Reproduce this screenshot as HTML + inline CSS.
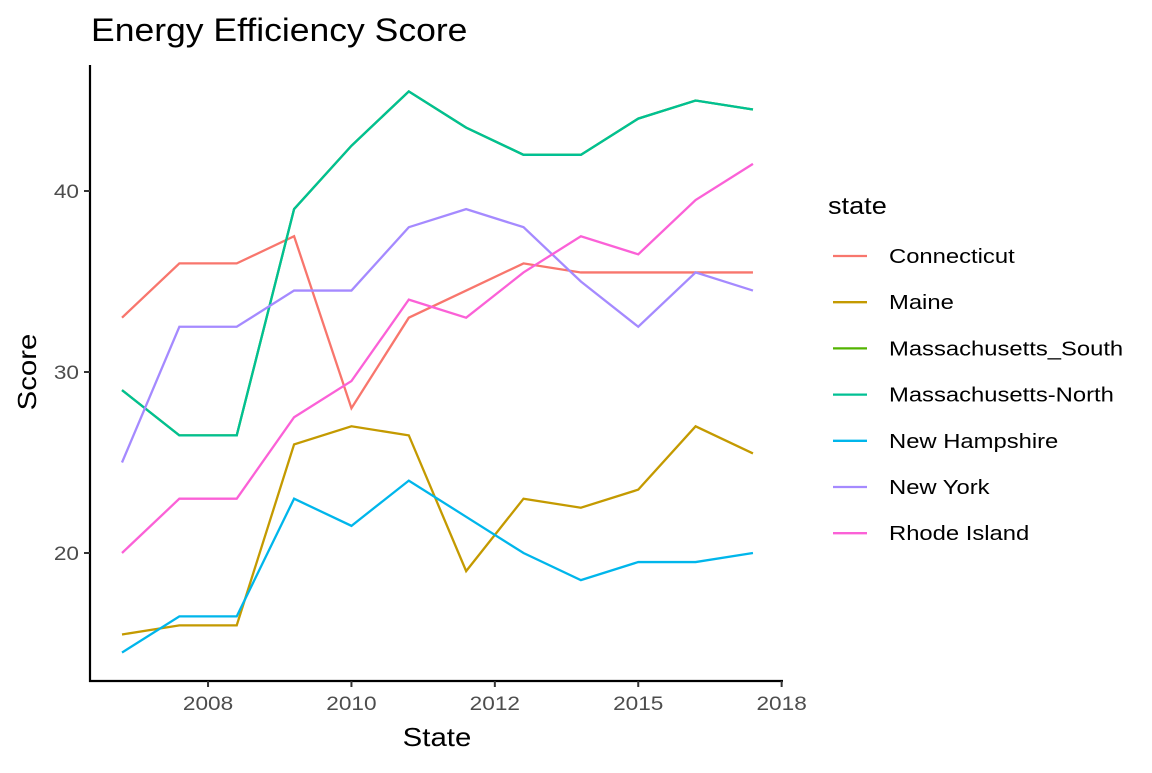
<!DOCTYPE html>
<html><head><meta charset="utf-8"><style>
body{margin:0;background:#fff;font-family:"Liberation Sans",sans-serif}
svg text{font-family:"Liberation Sans",sans-serif}
</style></head><body>
<svg id="chart" width="1152" height="768">
<text class="w" data-f="1.11" x="91" y="41" font-size="32" fill="#000">Energy Efficiency Score</text>
<g id="plot"></g>
<text class="w" data-f="1.13" x="437" y="746" font-size="26" text-anchor="middle" fill="#000">State</text>
<text class="w" data-f="1.13" transform="translate(36,372) rotate(-90)" font-size="26" text-anchor="middle" fill="#000">Score</text>
<g id="legend"><text class="w" data-f="1.13" x="828" y="214" font-size="24" fill="#000">state</text></g>
</svg>
<script>
const series = ["Connecticut","Maine","Massachusetts_South","Massachusetts-North","New Hampshire","New York","Rhode Island"];
const colors = ["#F8766D","#C49A00","#53B400","#00C094","#00B6EB","#A58AFF","#FB61D7"];
const connecticut = [33,36,36,37.5,28,33,34.5,36,35.5,35.5,35.5,35.5];
const maine = [15.5,16,16,26,27,26.5,19,23,22.5,23.5,27,25.5];
const massSouth = [29,26.5,26.5,39,42.5,45.5,43.5,42,42,44,45,44.5];
const massNorth = [29,26.5,26.5,39,42.5,45.5,43.5,42,42,44,45,44.5];
const newHampshire = [14.5,16.5,16.5,23,21.5,24,22,20,18.5,19.5,19.5,20];
const newYork = [25,32.5,32.5,34.5,34.5,38,39,38,35,32.5,35.5,34.5];
const rhodeIsland = [20,23,23,27.5,29.5,34,33,35.5,37.5,36.5,39.5,41.5];
const xTickLabels = ["2008","2010","2012","2015","2018"];
const xTickIdx = [1.5,4,6.5,9,11.5];
const yTicks = [20,30,40];
const allData = [connecticut,maine,massSouth,massNorth,newHampshire,newYork,rhodeIsland];
const NS="http://www.w3.org/2000/svg";
const xs = i => 122 + i*57.36;
const ys = v => 553 - (v-20)*18.1;
const plot=document.getElementById('plot');
function mk(t,a,p){const e=document.createElementNS(NS,t);for(const k in a)e.setAttribute(k,a[k]);(p||plot).appendChild(e);return e;}
let ax=mk('line',{x1:90,y1:65,x2:90,y2:682,stroke:'#000','stroke-width':2.2});


let bx=mk('line',{x1:89,y1:681,x2:783,y2:681,stroke:'#000','stroke-width':2.2});


yTicks.forEach(v=>{
 const tk=mk('line',{x1:84,x2:90,y1:ys(v),y2:ys(v),stroke:'#333','stroke-width':2});
 
 
 const t=mk('text',{x:79,y:ys(v)+7,'font-size':19,fill:'#4d4d4d','text-anchor':'end',class:'w','data-f':1.19});
 t.textContent=v;
 
 
});
xTickIdx.forEach((p,i)=>{
 const tk=mk('line',{x1:xs(p),x2:xs(p),y1:681,y2:687,stroke:'#333','stroke-width':2});
 
 
 const t=mk('text',{x:xs(p),y:710,'font-size':19,fill:'#4d4d4d','text-anchor':'middle',class:'w','data-f':1.19});
 t.textContent=xTickLabels[i];
 
 
});
allData.forEach((d,si)=>{
 const l=mk('polyline',{points:d.map((v,i)=>xs(i)+','+ys(v)).join(' '),fill:'none',stroke:colors[si],'stroke-width':2.3});
 
 
});
const lg=document.getElementById('legend');
series.forEach((s,i)=>{
 const y=256+i*46.2;
 const ln=mk('line',{x1:833,x2:867,y1:y,y2:y,stroke:colors[i],'stroke-width':2.3},lg);
 
 
 const t=mk('text',{x:889,y:y+7,'font-size':20,fill:'#000',class:'w','data-f':1.19},lg);
 t.textContent=s;
 
 
});
document.querySelectorAll('text.w').forEach(t=>{
 const L=t.getComputedTextLength()*parseFloat(t.getAttribute('data-f'));
 t.setAttribute('textLength',L);
 t.setAttribute('lengthAdjust','spacingAndGlyphs');
});
</script>
</body></html>
